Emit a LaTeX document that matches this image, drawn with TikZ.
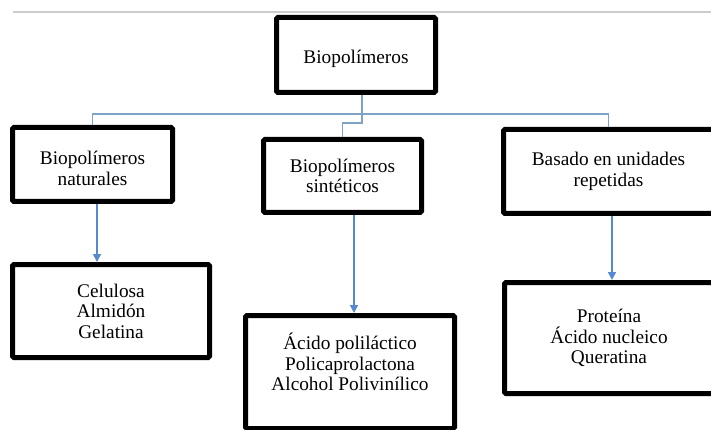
\documentclass[tikz,border=0pt]{standalone}
\usepackage{fontspec}
\setmainfont{Liberation Serif}
\usetikzlibrary{arrows.meta}

\definecolor{linkblue}{RGB}{125,163,201}
\definecolor{arrowblue}{RGB}{86,138,208}

\tikzset{
  box/.style={draw, line width=5pt, rounded corners=1.5pt, align=center, inner sep=0pt,
    font=\fontsize{19.3}{20.5}\selectfont},
  link/.style={linkblue, line width=1.8pt},
  arr/.style={arrowblue, line width=1.6pt, -{Triangle[width=8pt,length=8pt]}},
}

\begin{document}
\begin{tikzpicture}[x=1pt, y=-1pt]
  \clip (0,0) rectangle (711,430);
  \draw[black!20, line width=1.2pt] (13,12) -- (711,12);

  \node[box, minimum width=159pt, minimum height=75pt, text height=21pt] (bio) at (356,55) {Biopolímeros};

  \node[box, minimum width=160pt, minimum height=74pt, text height=42pt] (nat) at (92.5,164.5) {Biopolímeros\\naturales};
  \node[box, minimum width=158pt, minimum height=73pt] (sin) at (342.5,176) {Biopolímeros\\sintéticos};
  \node[box, minimum width=210pt, minimum height=84pt] (rep) at (608.5,171.5) {Basado en unidades\\repetidas};

  \node[box, minimum width=197pt, minimum height=93pt] (cel) at (111,311) {Celulosa\\Almidón\\Gelatina};
  \node[box, minimum width=209pt, minimum height=113pt] (aci) at (350,372) {Ácido poliláctico\\Policaprolactona\\Alcohol Polivinílico\\\mbox{}};
  \node[box, minimum width=209pt, minimum height=111pt] (pro) at (609,338) {Proteína\\Ácido nucleico\\Queratina};

  \coordinate (hub) at (362,114);
  \draw[link] (bio.south -| hub) -- (hub);
  \draw[link] (hub) -| (nat.north);
  \draw[link] (hub) -| (rep.north);
  \draw[link] (hub) -- ++(0,9) -| (sin.north);

  \draw[arr] ([xshift=4.5pt]nat.south) -- ([xshift=4.5pt]nat.south |- cel.north);
  \draw[arr] ([xshift=11.5pt]sin.south) -- ([xshift=11.5pt]sin.south |- aci.north);
  \draw[arr] ([xshift=3.5pt]rep.south) -- ([xshift=3.5pt]rep.south |- pro.north);
\end{tikzpicture}
\end{document}
